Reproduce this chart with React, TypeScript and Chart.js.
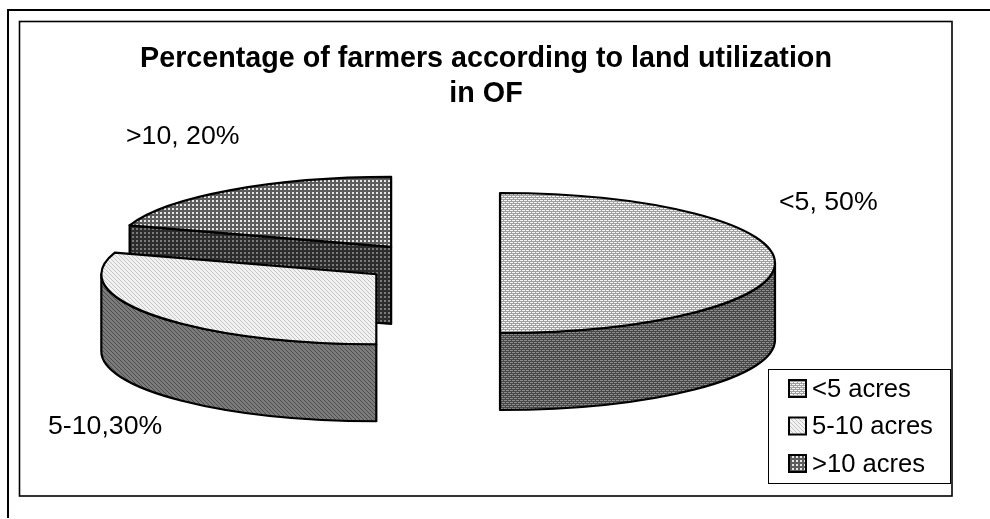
import React, { useEffect, useRef } from "react";
import { Chart, registerables } from "chart.js";

Chart.register(...registerables);

const categories = ["<5 acres", "5-10 acres", ">10 acres"];
const shares = [50, 30, 20];
const sliceLabels = ["<5, 50%", "5-10,30%", ">10, 20%"];
const titleLines = ["Percentage of farmers according to land utilization", "in OF"];

const FONT = "'Liberation Sans', Arial, sans-serif";
const RADIUS = 275;
const SQUASH = 70 / 275;
const DEPTH = 77;
const sliceOffsets = [252, 300, 312];
const paintOrder = [2, 1, 0];
const labelAnchors = [
  [779, 203],
  [48, 427],
  [126, 137],
];

const topTiles = [
  { rows: ["aaab", "bbbb", "abaa", "bbbb"], colors: { a: "#f4f4f4", b: "#a0a0a0" } },
  { rows: ["abbb", "babb", "bbab", "bbba"], colors: { a: "#c4c4c4", b: "#f2f2f2" } },
  { rows: ["aabb", "aabb", "bbbb", "bbbb"], colors: { a: "#e6e6e6", b: "#5c5c5c" } },
];
const wallTiles = [
  { rows: ["aaab", "bbbb", "abaa", "bbbb"], colors: { a: "#8c8c8c", b: "#484848" } },
  { rows: ["abbb", "babb", "bbab", "bbba"], colors: { a: "#4c4c4c", b: "#7c7c7c" } },
  { rows: ["aabb", "aabb", "bbbb", "bbbb"], colors: { a: "#7a7a7a", b: "#2c2c2c" } },
];

function makePattern(ctx: CanvasRenderingContext2D, tile: any) {
  const c = document.createElement("canvas");
  c.width = tile.rows[0].length;
  c.height = tile.rows.length;
  const g = c.getContext("2d")!;
  tile.rows.forEach((row: string, y: number) => {
    row.split("").forEach((ch: string, x: number) => {
      g.fillStyle = tile.colors[ch];
      g.fillRect(x, y, 1, 1);
    });
  });
  return ctx.createPattern(c, "repeat")!;
}

export default function App() {
  const ref = useRef<HTMLCanvasElement>(null);
  useEffect(() => {
    const ctx = ref.current!.getContext("2d")!;
    const topFill = topTiles.map((t) => makePattern(ctx, t));
    const wallFill = wallTiles.map((t) => makePattern(ctx, t));

    const frames = {
      id: "frames",
      beforeDraw(chart: any) {
        const c = chart.ctx;
        c.save();
        c.fillStyle = "#ffffff";
        c.fillRect(0, 0, 990, 519);
        c.strokeStyle = "#000000";
        c.lineWidth = 2;
        c.beginPath();
        c.moveTo(8, 518);
        c.lineTo(8, 10);
        c.lineTo(990, 10);
        c.stroke();
        c.lineWidth = 1.6;
        c.strokeRect(19.5, 21.5, 932.5, 474.5);
        c.restore();
      },
    };

    const centerOf = (arc: any) => {
      const half = (arc.startAngle + arc.endAngle) / 2;
      const off = arc.options.offset / 4;
      return {
        x: arc.x + Math.cos(half) * off,
        y: arc.y + Math.sin(half) * off * SQUASH,
      };
    };

    const pie3d = {
      id: "pie3d",
      beforeDatasetsDraw(chart: any) {
        const c = chart.ctx;
        const arcs = chart.getDatasetMeta(0).data;
        c.save();
        c.lineJoin = "round";
        c.lineWidth = 2.2;
        c.strokeStyle = "#000000";
        paintOrder.forEach((i) => {
          const arc = arcs[i];
          const { x, y } = centerOf(arc);
          const r = arc.outerRadius;
          const ry = r * SQUASH;
          const pt = (a: number, dy: number) => [x + Math.cos(a) * r, y + Math.sin(a) * ry + dy];
          const a0 = arc.startAngle;
          const a1 = arc.endAngle;

          // radial faces that look towards the viewer
          [
            { a: a0, show: -Math.cos(a0) > 1e-6 },
            { a: a1, show: Math.cos(a1) > 1e-6 },
          ].forEach(({ a, show }) => {
            if (!show) return;
            const p = pt(a, 0);
            const q = pt(a, DEPTH);
            c.beginPath();
            c.moveTo(p[0], p[1]);
            c.lineTo(x, y);
            c.lineTo(x, y + DEPTH);
            c.lineTo(q[0], q[1]);
            c.closePath();
            c.fillStyle = wallFill[i];
            c.fill();
            c.stroke();
          });

          // rim, only the part of it on the near side
          const nearTo = Math.min(a1, Math.PI);
          const nearFrom = Math.max(a0, 0);
          if (nearTo > nearFrom) {
            c.beginPath();
            c.ellipse(x, y, r, ry, 0, nearFrom, nearTo);
            c.ellipse(x, y + DEPTH, r, ry, 0, nearTo, nearFrom, true);
            c.closePath();
            c.fillStyle = wallFill[i];
            c.fill();
            c.stroke();
          }

          // top face, from the arc element's own angles, radius and colour
          c.beginPath();
          c.moveTo(x, y);
          c.ellipse(x, y, r, ry, 0, a0, a1);
          c.closePath();
          c.fillStyle = arc.options.backgroundColor;
          c.fill();
          c.stroke();
        });
        c.restore();
        return false;
      },
    };

    const overlay = {
      id: "overlay",
      afterLayout(chart: any) {
        const t = chart.titleBlock;
        t.left = 20;
        t.right = 952;
        t.top = 42;
        t.bottom = 112;
        const l = chart.legend;
        l.left = 776.1;
        l.top = 364.8;
        l.right = 950;
        l.bottom = 510;
      },
      afterDraw(chart: any) {
        const c = chart.ctx;
        const l = chart.legend;
        c.save();
        c.fillStyle = "#ffffff";
        c.fillRect(768, 369, 182, 114);
        c.strokeStyle = "#000000";
        c.lineWidth = 1;
        c.strokeRect(768.5, 369.5, 182, 114);
        c.restore();
        l.draw();
        c.save();
        c.strokeStyle = "#000000";
        c.lineWidth = 2;
        categories.forEach((_, i) => {
          const bx = 789;
          const by = 380 + i * 37.5;
          c.fillStyle = topFill[i];
          c.fillRect(bx, by, 17, 17);
          c.strokeRect(bx, by, 17, 17);
        });
        c.font = `26.7px ${FONT}`;
        c.fillStyle = "#000000";
        c.textBaseline = "middle";
        c.textAlign = "left";
        sliceLabels.forEach((s, i) => {
          c.fillText(s, labelAnchors[i][0], labelAnchors[i][1]);
        });
        c.restore();
      },
    };

    const chart = new Chart(ref.current!, {
      type: "pie",
      data: {
        labels: categories,
        datasets: [
          {
            data: shares,
            backgroundColor: topFill,
            borderWidth: 0,
            offset: sliceOffsets,
            radius: RADIUS,
            clip: false,
          } as any,
        ],
      },
      options: {
        responsive: false,
        animation: false,
        layout: { padding: { left: 20, right: 136, top: 0, bottom: 63 } },
        events: [],
        plugins: {
          tooltip: { enabled: false },
          title: {
            display: true,
            text: titleLines,
            color: "#000000",
            font: { family: FONT, size: 28.7, weight: "bold", lineHeight: 1.22 },
            padding: 0,
          },
          legend: {
            display: true,
            position: "chartArea",
            align: "start",
            maxHeight: 400,
            labels: {
              boxWidth: 11.2,
              boxHeight: 11,
              padding: 11.9,
              color: "#000000",
              font: { family: FONT, size: 25.6, lineHeight: 1.2 },
              generateLabels: () =>
                categories.map((text, index) => ({
                  text,
                  index,
                  fillStyle: "rgba(0,0,0,0)",
                  strokeStyle: "rgba(0,0,0,0)",
                  lineWidth: 0,
                  hidden: false,
                  fontColor: "#000000",
                })),
            },
          },
        },
      } as any,
      plugins: [frames, pie3d, overlay],
    });
    return () => chart.destroy();
  }, []);
  return (
    <canvas
      ref={ref}
      width={990}
      height={519}
      style={{ position: "absolute", left: 0, top: 0, display: "block" }}
    />
  );
}
